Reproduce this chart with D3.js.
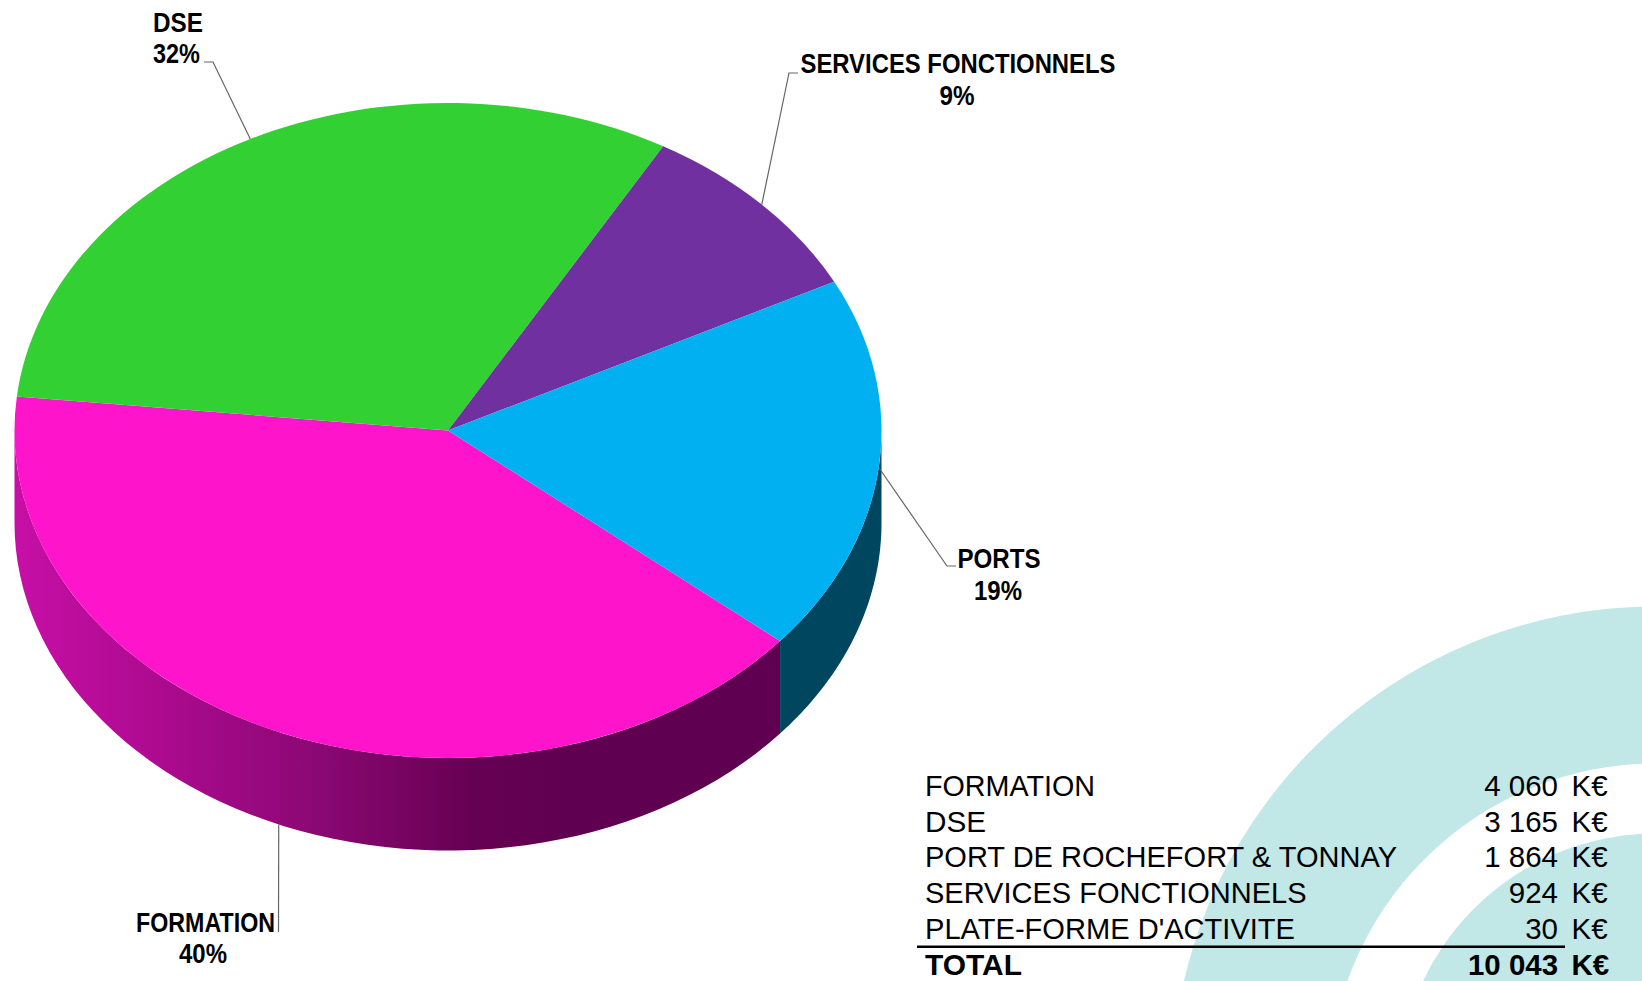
<!DOCTYPE html>
<html>
<head>
<meta charset="utf-8">
<script src="https://cdn.jsdelivr.net/npm/d3@7"></script>
<style>
  html, body { margin: 0; padding: 0; background: #fff; }
  text { font-family: "Liberation Sans", Arial, sans-serif; fill: #000; }
</style>
</head>
<body>
<div id="chart"></div>
<script>
// slices of the pie (plate-forme is only in the table, it is not in the pie)
var categories = ["FORMATION", "DSE", "SERVICES FONCTIONNELS", "PORTS"];
var values = [4060, 3165, 924, 1864];
var percents = ["40%", "32%", "9%", "19%"];
var topColors = ["#fe14ca", "#33d033", "#7030a0", "#00b0f0"];
var wallColors = ["url(#wall-grad)", "#1b7a24", "#3c1a58", "#00465f"];

// table bottom right
var tableNames = ["FORMATION", "DSE", "PORT DE ROCHEFORT & TONNAY", "SERVICES FONCTIONNELS", "PLATE-FORME D'ACTIVITE"];
var tableValues = ["4 060", "3 165", "1 864", "924", "30"];
var totalName = "TOTAL";
var totalValue = "10 043";
var unit = "K€";

var width = 1642, height = 981;

var svg = d3.select("#chart").append("svg")
    .attr("width", width)
    .attr("height", height)
    .style("display", "block");

// background rings, same centre
var ringCenter = {x: 1655.6, y: 1090.5};
var rings = [[327, 484], [0, 257]];
var ringArc = d3.arc().startAngle(0).endAngle(2 * Math.PI);

svg.append("g")
    .attr("transform", "translate(" + ringCenter.x + "," + ringCenter.y + ")")
    .selectAll("path")
    .data(rings)
    .enter().append("path")
    .attr("d", function(d) { return ringArc({innerRadius: d[0], outerRadius: d[1]}); })
    .attr("fill", "#c1e7e7");

// the pie is a flattened circle with a wall under it
var cx = 448, cy = 430.5, rx = 433.5, ry = 327.5, depth = 92.5;

var defs = svg.append("defs");
var grad = defs.append("linearGradient")
    .attr("id", "wall-grad")
    .attr("gradientUnits", "userSpaceOnUse")
    .attr("x1", 14).attr("x2", 780).attr("y1", 0).attr("y2", 0);
[[0, "#c70fa6"], [0.2, "#ab0a8e"], [0.4, "#8a0873"], [0.6, "#660052"], [0.72, "#600050"], [1, "#600050"]].forEach(function(s) {
    grad.append("stop").attr("offset", s[0]).attr("stop-color", s[1]);
});

var rad = Math.PI / 180;
var start = 130 * rad;
var pie = d3.pie().sort(null).startAngle(start).endAngle(start + 2 * Math.PI);
var slices = pie(values);

function ex(a) { return cx + rx * Math.sin(a); }
function ey(a) { return cy - ry * Math.cos(a); }

// front walls, only the part between 90 and 270 degrees can be seen
var wallLine = d3.line().x(function(d) { return d[0]; }).y(function(d) { return d[1]; });
var walls = svg.append("g");
slices.forEach(function(s) {
    [0, -2 * Math.PI].forEach(function(off) {
        var lo = Math.max(s.startAngle + off, 90 * rad);
        var hi = Math.min(s.endAngle + off, 270 * rad);
        if (lo >= hi) return;
        var steps = d3.range(0, 61).map(function(i) { return lo + (hi - lo) * i / 60; });
        var pts = steps.map(function(a) { return [ex(a), ey(a)]; })
            .concat(steps.slice().reverse().map(function(a) { return [ex(a), ey(a) + depth]; }));
        walls.append("path")
            .attr("d", wallLine(pts) + "Z")
            .attr("fill", wallColors[s.index]);
    });
});

// top of the pie
var arc = d3.arc().innerRadius(0).outerRadius(rx);
svg.append("g")
    .attr("transform", "translate(" + cx + "," + cy + ") scale(1," + (ry / rx) + ")")
    .selectAll("path")
    .data(slices)
    .enter().append("path")
    .attr("d", arc)
    .attr("fill", function(d) { return topColors[d.index]; });

// labels with leader lines, the line ends at the middle of the slice
// elbow = where the line bends, stub = where it stops next to the text
var labelPos = [
    {x: 205.5, pctX: 203, name: 932, pct: 963, nameW: 139, pctW: 48, elbow: [278.5, 932], stub: null, wall: true},
    {x: 178, pctX: 176.5, name: 32, pct: 63, nameW: 50, pctW: 47, elbow: [213, 62], stub: [204, 62], wall: false},
    {x: 958, pctX: 957, name: 73, pct: 105, nameW: 315, pctW: 35, elbow: [789, 73], stub: [798, 73], wall: false},
    {x: 999, pctX: 998, name: 568, pct: 600, nameW: 83, pctW: 48, elbow: [947, 566], stub: [956, 566], wall: false}
];

var leaders = svg.append("g");
slices.forEach(function(s) {
    var p = labelPos[s.index];
    var mid = (s.startAngle + s.endAngle) / 2;
    var end = [ex(mid), ey(mid) + (p.wall ? depth : 0)];
    var pts = (p.stub ? [p.stub] : []).concat([p.elbow, end]);
    leaders.append("path")
        .attr("d", wallLine(pts))
        .attr("fill", "none")
        .attr("stroke", "#666")
        .attr("stroke-width", 1.2);
});

var labels = svg.append("g")
    .attr("font-weight", "bold")
    .attr("font-size", 27)
    .attr("text-anchor", "middle");
categories.forEach(function(c, i) {
    var p = labelPos[i];
    labels.append("text").attr("x", p.x).attr("y", p.name).text(c)
        .attr("textLength", p.nameW).attr("lengthAdjust", "spacingAndGlyphs");
    labels.append("text").attr("x", p.pctX).attr("y", p.pct).text(percents[i])
        .attr("textLength", p.pctW).attr("lengthAdjust", "spacingAndGlyphs");
});

// table
var rowY = d3.scaleLinear().domain([0, 5]).range([795.7, 975]);
var nameX = 925, valueX = 1558, unitX = 1571.5;
var table = svg.append("g").attr("font-size", 29.5);
var nameW = [170, 61, 472, 381.5, 370];

tableNames.forEach(function(n, i) {
    table.append("text").attr("x", nameX).attr("y", rowY(i)).text(n)
        .attr("textLength", nameW[i]).attr("lengthAdjust", "spacingAndGlyphs");
    table.append("text").attr("x", valueX).attr("y", rowY(i)).attr("text-anchor", "end").text(tableValues[i]);
    table.append("text").attr("x", unitX).attr("y", rowY(i)).text(unit);
});

table.append("line")
    .attr("x1", 917).attr("x2", 1565)
    .attr("y1", 946.7).attr("y2", 946.7)
    .attr("stroke", "#000").attr("stroke-width", 2.4);

var totals = table.append("g").attr("font-weight", "bold");
totals.append("text").attr("x", nameX).attr("y", rowY(5)).text(totalName)
    .attr("textLength", 97).attr("lengthAdjust", "spacingAndGlyphs");
totals.append("text").attr("x", valueX).attr("y", rowY(5)).attr("text-anchor", "end").text(totalValue)
    .attr("textLength", 90).attr("lengthAdjust", "spacingAndGlyphs");
totals.append("text").attr("x", unitX).attr("y", rowY(5)).text(unit);
</script>
</body>
</html>
